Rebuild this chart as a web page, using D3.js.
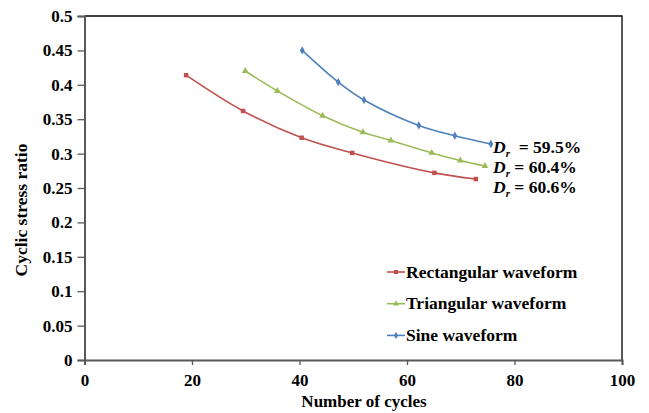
<!DOCTYPE html>
<html>
<head>
<meta charset="utf-8">
<script src="https://cdn.jsdelivr.net/npm/d3@7"></script>
<style>
  html, body { margin: 0; padding: 0; background: #fff; }
  svg { display: block; }
  svg text { font-family: "Liberation Serif", "Times New Roman", serif !important; font-weight: bold; fill: #000; }
</style>
</head>
<body>
<svg id="chart" width="649" height="413"></svg>
<script>
// Cyclic stress ratio vs. number of cycles for three loading waveforms
const seriesNames = ["Rectangular waveform", "Triangular waveform", "Sine waveform"];
const seriesColors = ["#C0504D", "#9BBB59", "#4F81BD"];
const seriesSymbols = [d3.symbolSquare, d3.symbolTriangle, d3.symbolDiamond];

const rectCycles = [18.9, 29.5, 40.4, 49.8, 65.1, 72.8];
const rectCSR    = [0.414, 0.362, 0.323, 0.301, 0.272, 0.263];

const triCycles = [29.9, 35.9, 44.3, 51.8, 57.0, 64.6, 69.9, 74.5];
const triCSR    = [0.420, 0.391, 0.355, 0.331, 0.319, 0.301, 0.290, 0.282];

const sineCycles = [40.5, 47.2, 52.0, 62.2, 68.9, 75.6];
const sineCSR    = [0.450, 0.404, 0.378, 0.341, 0.326, 0.314];

const relDensity = ["59.5%", "60.4%", "60.6%"];   // sine, triangular, rectangular

const xTicks = [0, 20, 40, 60, 80, 100];
const yTicks = [0, 0.05, 0.1, 0.15, 0.2, 0.25, 0.3, 0.35, 0.4, 0.45, 0.5];

const series = [
  { name: seriesNames[0], color: seriesColors[0], symbol: seriesSymbols[0], pts: rectCycles.map((x, i) => [x, rectCSR[i]]) },
  { name: seriesNames[1], color: seriesColors[1], symbol: seriesSymbols[1], pts: triCycles.map((x, i) => [x, triCSR[i]]) },
  { name: seriesNames[2], color: seriesColors[2], symbol: seriesSymbols[2], pts: sineCycles.map((x, i) => [x, sineCSR[i]]) }
];

const svg = d3.select("#chart");
const L = 84.5, R = 622, T = 16, B = 360;

const x = d3.scaleLinear().domain([0, 100]).range([L, R]);
const y = d3.scaleLinear().domain([0, 0.5]).range([B, T]);

// plot frame (top/right)
svg.append("path")
  .attr("d", `M${L},${T}H${R}V${B}`)
  .attr("fill", "none").attr("stroke", "#000").attr("stroke-width", 1.3);

// axes
const yAxis = svg.append("g").attr("transform", `translate(${L},0)`)
  .call(d3.axisLeft(y).tickValues(yTicks).tickFormat(d => String(+d.toFixed(2)))
    .tickSizeOuter(0).tickSize(7).tickPadding(5));
const xAxis = svg.append("g").attr("transform", `translate(0,${B})`)
  .call(d3.axisBottom(x).tickValues(xTicks).tickSizeOuter(0).tickSize(5).tickPadding(9));

[xAxis, yAxis].forEach(g => {
  g.attr("font-family", null).attr("font-size", null);
  g.select(".domain").attr("stroke", "#595959").attr("stroke-width", 2);
  g.selectAll(".tick line").attr("stroke", "#595959").attr("stroke-width", 1.3);
  g.selectAll(".tick text").style("font-size", "17px");
});

// axis titles
svg.append("text")
  .attr("x", 364).attr("y", 407)
  .attr("text-anchor", "middle").style("font-size", "17px")
  .text("Number of cycles");
svg.append("text")
  .attr("transform", `translate(27,210) rotate(-90)`)
  .attr("text-anchor", "middle").style("font-size", "17.5px")
  .text("Cyclic stress ratio");

// series curves and markers
const line = d3.line()
  .x(d => x(d[0])).y(d => y(d[1]))
  .curve(d3.curveCatmullRom.alpha(0.5));

series.forEach(s => {
  svg.append("path")
    .datum(s.pts)
    .attr("d", line)
    .attr("fill", "none")
    .attr("stroke", s.color)
    .attr("stroke-width", 1.6);
  svg.append("g").selectAll("path")
    .data(s.pts).join("path")
    .attr("transform", d => `translate(${x(d[0])},${y(d[1])})`)
    .attr("d", d3.symbol().type(s.symbol).size(20))
    .attr("fill", s.color);
});

// relative density labels at curve ends
const drLabels = [
  { v: relDensity[0], gap: "  = ", yb: 153 },
  { v: relDensity[1], gap: " = ", yb: 173 },
  { v: relDensity[2], gap: " = ", yb: 193 }
];
drLabels.forEach(d => {
  const t = svg.append("text")
    .attr("x", 493).attr("y", d.yb)
    .style("font-size", "17.5px")
    .attr("xml:space", "preserve");
  t.append("tspan").style("font-style", "italic").text("D");
  t.append("tspan").style("font-style", "italic").style("font-size", "11px").attr("dy", 4).text("r");
  t.append("tspan").attr("dy", -4).text(d.gap + d.v);
});

// legend
const legend = svg.append("g");
series.forEach((s, i) => {
  const ly = 272 + i * 31.7;
  legend.append("line")
    .attr("x1", 387).attr("x2", 405).attr("y1", ly).attr("y2", ly)
    .attr("stroke", s.color).attr("stroke-width", 1.6);
  legend.append("path")
    .attr("transform", `translate(396,${ly})`)
    .attr("d", d3.symbol().type(s.symbol).size(16))
    .attr("fill", s.color);
  legend.append("text")
    .attr("x", 406).attr("y", ly + 5.5)
    .style("font-size", "17.5px")
    .text(s.name);
});
</script>
</body>
</html>
